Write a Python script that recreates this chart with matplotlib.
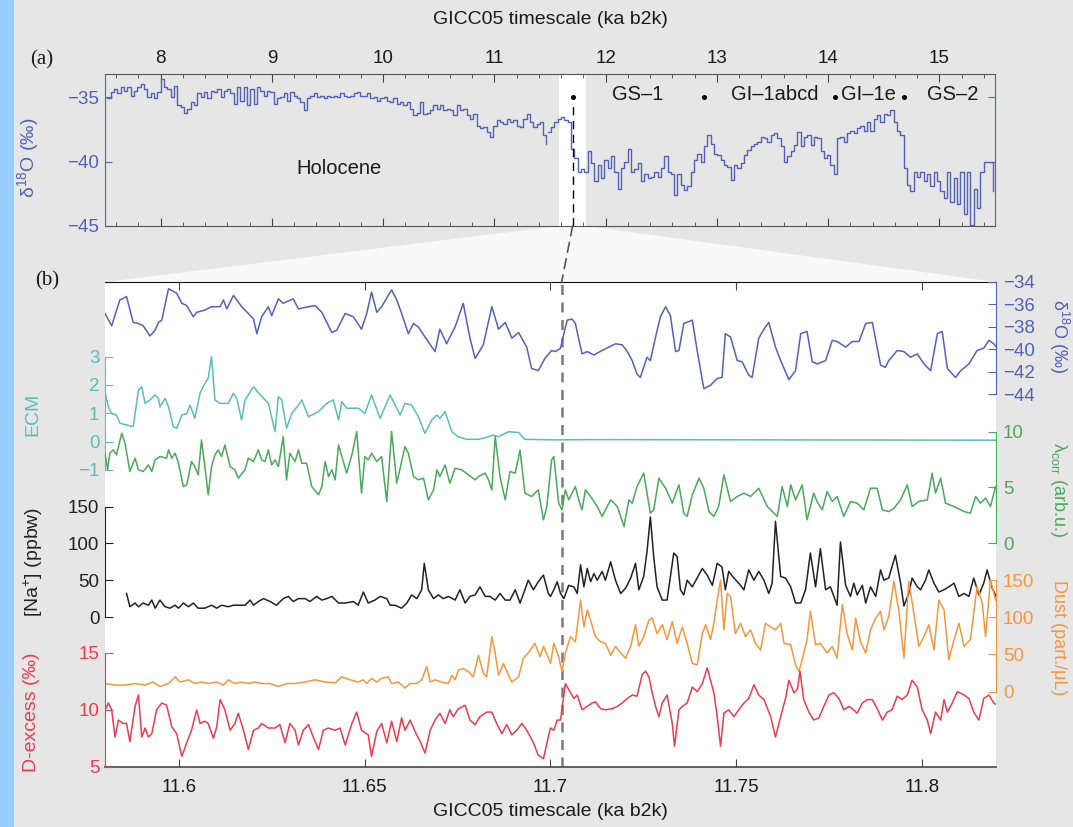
import numpy as np
import matplotlib.pyplot as plt
from matplotlib.patches import Rectangle, Polygon, ConnectionPatch

plt.rcParams['font.family'] = ['Liberation Sans', 'DejaVu Sans']
plt.rcParams['mathtext.fontset'] = 'custom'
plt.rcParams['mathtext.rm'] = 'Liberation Sans'
plt.rcParams['mathtext.it'] = 'Liberation Sans:italic'

# ---------------- panel (a): NGRIP d18O, ~30 yr steps -----------------
a_d18o_holo = [
    -35.1, -34.6, -34.4, -34.7, -34.2, -34.5, -34.2, -34.9, -34.5, -34.2,
    -34.0, -34.4, -35.0, -34.7, -35.1, -34.6, -33.6, -34.2, -34.4, -35.0,
    -34.1, -35.6, -35.8, -36.2, -35.9, -35.4, -35.6, -34.7, -35.0, -34.6,
    -35.1, -34.5, -34.6, -34.4, -35.0, -34.5, -34.4, -34.7, -35.5, -34.2,
    -35.3, -34.2, -35.6, -34.4, -35.5, -34.2, -34.5, -34.9, -34.5, -34.6,
    -35.5, -35.1, -35.0, -34.7, -35.3, -34.6, -34.9, -35.1, -35.4, -36.0,
    -35.1, -34.9, -34.7, -35.0, -34.9, -35.1, -34.9, -35.0, -34.9, -35.0,
    -34.7, -34.9, -35.0, -34.9, -34.7, -34.6, -34.9, -34.9, -34.7, -35.1,
    -35.0, -35.3, -35.1, -35.0, -35.3, -35.4, -35.1, -35.5, -35.4, -35.6,
    -35.4, -35.9, -36.4, -36.2, -35.4, -36.3, -36.2, -36.0, -35.6, -35.9,
    -35.6, -36.0, -35.9, -36.0, -36.4, -35.6, -36.0, -35.9, -36.4, -36.7,
    -36.3, -37.2, -37.4, -37.3, -37.7, -38.1, -37.2, -36.8, -36.9, -37.1,
    -36.7, -36.9, -36.8, -37.2, -37.3, -36.7, -36.3, -36.9, -37.3, -37.1,
    -36.9, -37.9, -38.6]
a_d18o_glac = [
    -37.7, -37.3, -36.9, -36.7, -36.5, -36.8, -36.9, -39.0, -39.7, -40.8,
    -40.6, -40.8, -39.2, -40.1, -41.5, -40.3, -41.3, -39.9, -40.5, -39.6,
    -40.8, -42.1, -40.5, -40.0, -39.0, -40.8, -40.6, -40.1, -41.5, -41.0,
    -41.3, -41.2, -40.8, -41.2, -40.5, -39.6, -40.8, -41.0, -42.6, -41.0,
    -41.8, -42.2, -41.9, -40.8, -39.9, -39.4, -40.0, -38.8, -37.9, -38.6,
    -39.4, -39.5, -39.9, -40.3, -40.4, -41.4, -40.3, -40.5, -40.1, -39.5,
    -39.1, -38.8, -38.6, -38.5, -38.1, -38.2, -38.5, -37.9, -37.8, -38.2,
    -38.8, -40.0, -39.6, -39.2, -38.7, -37.7, -38.8, -38.1, -37.9, -38.7,
    -38.1, -38.2, -39.2, -39.7, -39.5, -40.3, -41.0, -38.2, -38.1, -38.5,
    -37.8, -37.6, -37.8, -37.4, -37.2, -37.6, -36.9, -37.6, -36.7, -36.4,
    -36.9, -36.3, -36.4, -36.0, -36.9, -37.6, -37.9, -40.5, -41.8, -42.3,
    -40.8, -41.2, -40.8, -41.5, -41.0, -41.9, -40.8, -41.5, -42.3, -42.8,
    -40.8, -43.1, -41.3, -43.3, -40.8, -44.1, -40.8, -44.9, -42.1, -43.6,
    -40.8, -40.0, -40.0, -40.0, -42.3]
# sample ages (yr b2k) of the two stretches, 29.9 yr bins
a_age_holo = 7521.7 + 29.9 * np.arange(len(a_d18o_holo))
a_age_glac = 11479.8 + 29.9 * np.arange(len(a_d18o_glac))

event_dots = [11.703, 12.88, 14.06, 14.68]
event_names = ['GS\u20131', 'GI\u20131abcd', 'GI\u20131e', 'GS\u20132']
event_pos = [12.29, 13.52, 14.36, 15.12]

# ---------------- panel (b): (age yr b2k, value) -----------------
d18o_b = [
    (11580.0, -36.8), (11581.8, -37.9), (11584.0, -35.6), (11585.8, -35.3), (11587.6, -37.6),
    (11589.0, -37.7), (11590.3, -37.9), (11592.1, -38.8), (11593.5, -38.3), (11594.4, -37.6),
    (11595.3, -37.4), (11597.1, -34.6), (11599.3, -35.0), (11600.7, -35.9), (11602.0, -36.1),
    (11603.8, -37.1), (11604.7, -36.7), (11606.9, -36.5), (11608.7, -36.2), (11611.0, -36.2),
    (11611.9, -35.6), (11612.8, -36.4), (11614.6, -35.2), (11616.8, -36.2), (11618.6, -36.8),
    (11620.0, -37.3), (11620.9, -38.6), (11622.2, -37.1), (11624.0, -36.2), (11624.9, -37.0),
    (11626.7, -35.5), (11628.0, -35.9), (11630.7, -35.5), (11632.1, -36.4), (11634.8, -36.2),
    (11636.6, -36.1), (11638.4, -36.7), (11641.1, -38.5), (11642.4, -38.3), (11644.7, -36.8),
    (11646.9, -37.1), (11649.1, -38.2), (11650.5, -36.8), (11651.8, -34.9), (11653.2, -36.7),
    (11654.5, -36.2), (11657.2, -34.7), (11658.6, -35.6), (11659.9, -36.8), (11661.7, -38.6),
    (11663.1, -37.7), (11664.4, -38.0), (11666.2, -38.9), (11668.9, -40.2), (11670.2, -38.2),
    (11672.0, -39.5), (11674.3, -38.0), (11676.5, -35.9), (11678.3, -39.0), (11679.7, -40.8),
    (11681.9, -39.6), (11684.2, -36.2), (11686.0, -38.2), (11687.8, -37.6), (11689.6, -39.0),
    (11691.4, -38.5), (11693.6, -39.8), (11694.9, -41.7), (11696.7, -41.9), (11698.5, -40.8),
    (11700.3, -40.1), (11701.3, -40.2), (11702.7, -39.9), (11703.6, -38.6), (11704.5, -37.4),
    (11705.8, -37.3), (11706.7, -37.7), (11708.5, -40.4), (11709.9, -40.2), (11711.7, -40.5),
    (11713.9, -40.1), (11715.7, -39.8), (11717.5, -39.5), (11719.3, -39.6), (11720.7, -40.2),
    (11722.0, -41.0), (11723.3, -42.2), (11724.2, -42.5), (11726.0, -40.7), (11726.9, -41.0),
    (11728.3, -38.9), (11729.6, -37.1), (11731.0, -36.2), (11732.3, -37.0), (11733.7, -40.2),
    (11734.6, -40.1), (11735.9, -37.7), (11738.2, -37.4), (11739.5, -40.1), (11741.3, -43.5),
    (11743.1, -43.2), (11744.9, -42.6), (11746.2, -42.5), (11747.1, -38.6), (11748.5, -38.9),
    (11750.3, -41.0), (11751.6, -41.1), (11753.4, -42.3), (11754.3, -42.5), (11756.1, -39.0),
    (11757.5, -38.2), (11758.8, -37.6), (11760.6, -39.8), (11762.0, -41.0), (11764.2, -42.7),
    (11766.0, -41.9), (11767.4, -38.6), (11769.1, -38.4), (11770.5, -41.1), (11771.8, -41.3),
    (11774.1, -41.0), (11775.9, -39.2), (11777.2, -39.3), (11779.5, -39.8), (11781.3, -39.3),
    (11783.1, -39.3), (11784.9, -37.7), (11786.7, -37.6), (11788.9, -41.4), (11790.2, -41.6),
    (11791.1, -41.0), (11793.4, -40.1), (11795.2, -40.2), (11797.0, -40.7), (11798.8, -40.4),
    (11800.6, -41.3), (11802.4, -41.9), (11804.2, -38.6), (11805.5, -38.4), (11806.9, -41.7),
    (11809.1, -42.5), (11810.5, -41.9), (11812.7, -41.3), (11814.9, -40.1), (11816.7, -39.9),
    (11818.1, -39.2), (11819.4, -39.5), (11820.8, -40.1)]

ecm_b = [
    (11580.0, 1.76), (11580.9, 1.23), (11581.8, 0.99), (11583.1, 0.94), (11584.0, 0.65),
    (11585.8, 0.59), (11587.6, 0.53), (11589.0, 1.82), (11589.9, 1.94), (11590.8, 1.35),
    (11592.1, 1.47), (11593.5, 1.65), (11594.4, 1.53), (11594.8, 1.23), (11596.2, 1.53),
    (11597.1, 1.23), (11598.4, 0.53), (11599.3, 0.47), (11600.7, 0.94), (11602.0, 0.99),
    (11602.9, 1.29), (11604.2, 0.82), (11605.6, 1.71), (11606.9, 2.06), (11607.8, 2.24),
    (11608.7, 3.00), (11609.6, 1.47), (11611.0, 1.35), (11613.2, 1.35), (11614.6, 1.71),
    (11615.5, 1.53), (11616.8, 0.76), (11617.7, 1.47), (11620.0, 1.94), (11621.8, 1.65),
    (11624.0, 1.35), (11625.8, 0.35), (11626.7, 1.59), (11627.6, 1.47), (11628.9, 0.47),
    (11630.3, 0.99), (11632.1, 1.29), (11633.0, 1.47), (11634.8, 0.88), (11637.5, 1.06),
    (11639.7, 1.35), (11641.5, 1.47), (11642.9, 0.76), (11643.8, 1.41), (11645.1, 1.18),
    (11648.2, 1.18), (11650.0, 0.99), (11651.8, 1.65), (11654.1, 0.82), (11656.8, 1.65),
    (11659.5, 0.94), (11660.8, 1.35), (11662.6, 1.29), (11664.4, 0.88), (11666.2, 0.29),
    (11668.0, 0.76), (11669.4, 0.94), (11670.2, 0.82), (11671.6, 1.06), (11673.4, 0.35),
    (11675.2, 0.17), (11677.4, 0.08), (11680.6, 0.08), (11683.3, 0.17), (11684.6, 0.23),
    (11686.0, 0.17), (11688.7, 0.35), (11691.4, 0.32), (11693.1, 0.08), (11701.2, 0.06),
    (11710.0, 0.07), (11820.0, 0.05)]

lam_b = [
    (11580.0, 8.07), (11580.7, 6.58), (11581.3, 8.07), (11582.2, 8.37), (11583.1, 7.92),
    (11584.5, 9.86), (11585.4, 8.96), (11586.7, 6.43), (11588.1, 7.62), (11589.0, 6.58),
    (11590.3, 6.43), (11591.7, 7.02), (11592.6, 6.43), (11593.5, 7.47), (11594.8, 7.77),
    (11596.6, 7.62), (11597.1, 8.37), (11598.0, 7.62), (11598.9, 8.07), (11599.8, 7.17),
    (11601.1, 5.08), (11602.0, 5.23), (11603.3, 7.32), (11604.2, 6.87), (11605.1, 6.13),
    (11606.0, 9.26), (11606.9, 6.87), (11607.8, 4.34), (11608.7, 6.87), (11609.6, 7.92),
    (11610.5, 8.37), (11611.4, 7.77), (11612.3, 8.81), (11613.7, 6.87), (11615.0, 6.58),
    (11615.9, 5.83), (11617.7, 6.58), (11618.6, 7.62), (11620.0, 7.32), (11621.3, 8.37),
    (11622.2, 7.47), (11623.1, 7.32), (11624.0, 8.37), (11624.9, 7.02), (11625.8, 7.47),
    (11626.7, 6.87), (11628.0, 9.56), (11628.9, 5.68), (11629.8, 8.07), (11631.2, 7.32),
    (11632.1, 8.37), (11633.0, 7.17), (11634.3, 7.17), (11635.7, 5.08), (11637.5, 4.34),
    (11638.4, 5.08), (11639.3, 7.32), (11640.2, 5.98), (11641.1, 6.58), (11642.0, 5.68),
    (11642.9, 8.81), (11643.8, 7.77), (11645.1, 6.28), (11646.5, 7.92), (11647.8, 10.01),
    (11649.1, 4.49), (11650.0, 7.77), (11650.9, 7.47), (11651.8, 8.07), (11653.2, 7.32),
    (11654.5, 7.77), (11655.9, 3.74), (11657.2, 10.01), (11658.6, 5.38), (11659.5, 6.72),
    (11660.8, 8.66), (11661.7, 8.07), (11663.1, 5.98), (11664.4, 5.68), (11665.8, 5.83),
    (11667.1, 3.89), (11668.5, 4.78), (11669.4, 6.58), (11670.2, 5.98), (11671.6, 7.02),
    (11672.9, 5.38), (11674.3, 6.72), (11676.1, 6.58), (11677.9, 6.13), (11679.7, 5.68),
    (11680.6, 5.98), (11682.4, 6.28), (11683.3, 5.68), (11684.2, 4.78), (11685.1, 9.56),
    (11686.4, 5.98), (11687.8, 3.89), (11689.1, 6.43), (11690.5, 6.28), (11691.8, 8.37),
    (11693.1, 4.49), (11694.9, 4.19), (11696.7, 4.78), (11698.1, 2.10), (11699.0, 3.29),
    (11700.3, 7.47), (11700.9, 7.77), (11702.2, 3.59), (11703.1, 2.99), (11704.0, 4.78),
    (11704.9, 3.89), (11706.7, 5.08), (11707.6, 3.89), (11708.5, 2.99), (11709.4, 4.78),
    (11710.8, 4.19), (11712.6, 3.29), (11713.9, 2.40), (11716.2, 3.89), (11718.0, 3.29),
    (11719.8, 1.50), (11721.1, 3.89), (11722.0, 3.59), (11723.3, 5.08), (11725.1, 6.28),
    (11726.9, 2.69), (11727.8, 2.99), (11729.2, 5.83), (11731.0, 4.93), (11732.8, 3.59),
    (11734.6, 5.23), (11735.9, 2.69), (11736.8, 2.40), (11738.2, 4.34), (11740.0, 5.83),
    (11741.3, 4.93), (11742.7, 2.84), (11744.0, 2.40), (11745.3, 3.29), (11746.7, 6.13),
    (11748.5, 3.74), (11750.3, 4.19), (11752.1, 4.49), (11753.9, 4.19), (11756.1, 4.93),
    (11758.4, 3.29), (11760.2, 2.69), (11761.1, 2.40), (11762.4, 5.08), (11763.8, 3.29),
    (11764.7, 5.23), (11766.0, 3.89), (11767.8, 5.23), (11769.1, 2.10), (11770.9, 4.49),
    (11771.8, 3.74), (11773.2, 2.99), (11774.5, 4.63), (11775.9, 3.74), (11777.2, 4.19),
    (11779.0, 2.40), (11780.8, 3.74), (11782.6, 3.59), (11784.4, 2.99), (11786.2, 4.93),
    (11788.0, 4.93), (11789.4, 2.99), (11791.1, 2.84), (11792.5, 3.14), (11794.3, 3.89),
    (11796.1, 5.23), (11797.4, 3.29), (11799.2, 3.74), (11801.5, 3.89), (11802.8, 6.28),
    (11803.7, 4.49), (11805.1, 5.83), (11806.4, 3.59), (11808.7, 3.29), (11811.4, 2.84),
    (11813.1, 2.69), (11814.5, 4.19), (11815.8, 3.59), (11817.2, 4.04), (11818.5, 3.29),
    (11819.9, 5.08), (11820.8, 5.23)]

na_b = [
    (11585.8, 32), (11586.7, 14), (11588.1, 19), (11589.0, 14), (11590.3, 19), (11591.7, 16),
    (11592.6, 23), (11593.5, 12), (11594.8, 23), (11596.2, 14), (11597.5, 12), (11598.9, 16),
    (11599.8, 12), (11601.1, 19), (11602.5, 14), (11603.8, 19), (11605.1, 12), (11606.9, 12),
    (11608.7, 16), (11610.1, 12), (11611.4, 16), (11613.2, 14), (11614.6, 16), (11615.9, 16),
    (11617.7, 16), (11619.1, 23), (11620.0, 16), (11621.3, 21), (11622.7, 25), (11624.5, 21),
    (11626.2, 16), (11628.0, 25), (11629.4, 28), (11630.7, 21), (11632.1, 25), (11633.9, 25),
    (11635.2, 21), (11637.0, 28), (11638.4, 23), (11639.7, 25), (11641.1, 28), (11642.9, 19),
    (11644.7, 19), (11646.9, 21), (11648.2, 16), (11649.6, 34), (11650.9, 19), (11652.7, 23),
    (11654.1, 28), (11655.9, 25), (11656.8, 16), (11658.1, 16), (11659.9, 12), (11661.3, 19),
    (11662.6, 30), (11664.0, 25), (11665.3, 37), (11666.0, 73), (11667.1, 37), (11668.5, 25),
    (11669.8, 30), (11671.1, 25), (11672.5, 28), (11674.3, 23), (11675.6, 37), (11677.0, 19),
    (11678.3, 28), (11679.7, 30), (11681.0, 41), (11682.4, 28), (11683.7, 28), (11685.1, 23),
    (11686.4, 32), (11687.8, 23), (11689.1, 23), (11690.5, 37), (11691.8, 19), (11693.1, 37),
    (11694.0, 50), (11695.4, 37), (11696.7, 48), (11698.1, 57), (11699.4, 32),
    (11700.0, 28), (11700.9, 37), (11701.8, 48), (11702.7, 32), (11703.6, 25), (11704.9, 43),
    (11706.3, 41), (11707.2, 32), (11708.1, 71), (11709.0, 41), (11709.9, 66), (11710.8, 48),
    (11711.7, 59), (11712.6, 50), (11713.9, 62), (11714.8, 50), (11716.2, 75), (11717.5, 50),
    (11718.9, 32), (11720.2, 39), (11721.6, 53), (11722.9, 73), (11723.8, 37), (11725.1, 55),
    (11726.0, 89), (11726.9, 136), (11727.8, 82), (11728.7, 41), (11730.1, 23), (11731.4, 23),
    (11733.2, 87), (11734.1, 82), (11735.0, 37), (11735.9, 30), (11736.8, 50), (11738.2, 41),
    (11739.5, 53), (11740.9, 66), (11742.2, 57), (11743.6, 43), (11744.9, 73), (11746.2, 68),
    (11747.1, 37), (11748.0, 62), (11749.4, 53), (11750.7, 46), (11752.1, 37), (11753.4, 64),
    (11754.8, 50), (11756.1, 62), (11757.5, 50), (11758.8, 32), (11759.7, 46), (11760.6, 130),
    (11762.0, 55), (11763.3, 53), (11764.7, 41), (11766.0, 19), (11767.4, 19), (11768.7, 37),
    (11770.0, 87), (11771.4, 41), (11772.7, 93), (11774.1, 37), (11775.4, 41), (11777.2, 16),
    (11778.1, 102), (11779.5, 43), (11780.8, 28), (11781.7, 46), (11782.6, 30), (11784.0, 43),
    (11784.9, 19), (11786.2, 41), (11787.6, 28), (11788.9, 64), (11789.8, 50), (11791.1, 53),
    (11792.9, 84), (11794.3, 46), (11795.2, 15), (11796.5, 32), (11797.4, 53), (11798.8, 41),
    (11799.7, 37), (11801.0, 50), (11801.9, 64), (11803.3, 46), (11804.6, 34), (11806.0, 37),
    (11807.3, 41), (11808.7, 46), (11810.0, 28), (11811.4, 32), (11812.7, 28), (11814.0, 53),
    (11815.4, 30), (11816.7, 46), (11817.6, 64), (11819.0, 39), (11820.3, 25)]

dust_b = [
    (11580.0, 11), (11582.7, 9), (11585.4, 9), (11588.1, 11), (11590.8, 9), (11593.0, 13),
    (11594.8, 7), (11597.1, 11), (11598.9, 20), (11600.2, 13), (11602.5, 16), (11604.2, 11),
    (11606.0, 13), (11607.8, 11), (11610.1, 13), (11611.9, 9), (11613.2, 16), (11615.0, 11),
    (11616.8, 13), (11618.6, 11), (11620.4, 13), (11622.2, 11), (11624.5, 11), (11626.7, 7),
    (11628.9, 11), (11631.2, 11), (11633.9, 13), (11636.6, 16), (11639.3, 13), (11642.0, 12),
    (11643.8, 20), (11646.0, 16), (11648.2, 13), (11649.6, 16), (11650.5, 11), (11651.8, 18),
    (11653.2, 13), (11654.5, 18), (11656.3, 20), (11657.2, 11), (11659.0, 13), (11660.8, 5),
    (11662.2, 11), (11664.0, 11), (11665.3, 16), (11666.7, 34), (11667.6, 13), (11668.9, 16),
    (11670.7, 13), (11672.5, 11), (11673.4, 22), (11674.3, 16), (11675.2, 29), (11676.5, 31),
    (11677.9, 27), (11679.2, 20), (11680.6, 49), (11681.9, 25), (11682.8, 20), (11684.2, 74),
    (11685.1, 52), (11686.0, 22), (11687.3, 38), (11688.7, 22), (11689.6, 13), (11691.4, 20),
    (11692.7, 45), (11694.0, 52), (11695.8, 65), (11697.2, 47), (11698.1, 61), (11699.9, 40),
    (11700.0, 38), (11700.9, 65), (11702.2, 47), (11703.1, 27), (11704.0, 52), (11705.4, 74),
    (11706.7, 67), (11708.1, 123), (11709.0, 87), (11709.9, 110), (11710.8, 96), (11712.1, 74),
    (11713.5, 67), (11714.8, 65), (11716.2, 49), (11717.5, 61), (11718.9, 52), (11720.2, 45),
    (11721.6, 61), (11722.9, 90), (11723.8, 61), (11725.1, 74), (11726.5, 96), (11727.4, 99),
    (11728.7, 78), (11730.1, 90), (11731.4, 70), (11732.8, 94), (11734.1, 65), (11735.5, 87),
    (11736.8, 65), (11738.2, 38), (11739.5, 36), (11740.9, 78), (11741.8, 90), (11743.1, 70),
    (11744.0, 92), (11744.9, 123), (11745.8, 150), (11746.7, 83), (11747.6, 132), (11748.5, 128),
    (11749.8, 78), (11751.2, 92), (11752.5, 74), (11753.9, 83), (11755.2, 65), (11756.6, 56),
    (11757.9, 92), (11759.3, 87), (11760.6, 83), (11762.0, 92), (11762.9, 65), (11764.7, 63),
    (11766.0, 36), (11766.9, 27), (11767.8, 43), (11769.1, 70), (11770.0, 108), (11771.4, 63),
    (11772.7, 65), (11774.5, 52), (11775.9, 61), (11777.2, 45), (11778.6, 117), (11779.9, 78),
    (11781.3, 56), (11782.2, 99), (11783.5, 67), (11784.9, 52), (11786.2, 83), (11787.6, 99),
    (11788.9, 108), (11789.8, 83), (11791.1, 101), (11792.5, 148), (11793.8, 110), (11795.2, 45),
    (11796.5, 148), (11797.9, 105), (11799.2, 61), (11800.6, 74), (11801.9, 90), (11803.3, 56),
    (11804.6, 123), (11806.0, 110), (11807.3, 43), (11808.7, 70), (11810.0, 92), (11811.4, 61),
    (11813.1, 70), (11814.9, 141), (11816.3, 119), (11817.2, 74), (11818.5, 150), (11819.9, 123),
    (11820.8, 117)]

dex_b = [
    (11580.0, 10.0), (11580.9, 10.6), (11581.8, 10.0), (11582.7, 7.6), (11583.6, 9.1),
    (11584.9, 8.8), (11585.8, 8.8), (11586.7, 7.2), (11588.1, 10.3), (11589.0, 11.3),
    (11589.9, 7.6), (11590.8, 8.4), (11591.7, 7.6), (11592.6, 7.9), (11593.9, 10.0),
    (11595.3, 10.6), (11596.6, 10.4), (11598.0, 8.5), (11599.3, 7.9), (11600.7, 5.9),
    (11602.0, 7.1), (11603.3, 8.2), (11604.7, 10.0), (11605.6, 8.8), (11606.9, 9.0),
    (11607.8, 8.8), (11609.2, 7.5), (11610.1, 8.5), (11611.0, 10.9), (11612.3, 10.0),
    (11613.7, 8.2), (11615.0, 8.8), (11615.9, 9.7), (11617.3, 8.2), (11618.6, 6.5),
    (11620.0, 8.2), (11621.3, 8.4), (11622.2, 8.8), (11624.0, 8.4), (11625.8, 8.4),
    (11627.1, 8.7), (11628.5, 7.1), (11629.8, 8.8), (11631.2, 8.2), (11632.1, 6.9),
    (11633.4, 8.2), (11634.8, 8.7), (11636.1, 7.6), (11637.5, 6.5), (11638.8, 8.2),
    (11640.2, 8.4), (11642.0, 8.2), (11643.3, 8.4), (11644.7, 6.9), (11646.5, 8.8),
    (11647.8, 9.8), (11649.1, 8.2), (11650.9, 7.8), (11651.8, 5.9), (11653.2, 8.1),
    (11654.5, 8.8), (11655.9, 7.1), (11657.2, 9.0), (11658.6, 7.2), (11659.9, 9.3),
    (11660.8, 8.2), (11662.2, 9.1), (11663.5, 8.1), (11664.9, 7.2), (11666.2, 6.2),
    (11667.6, 8.2), (11668.9, 9.1), (11670.2, 9.7), (11671.6, 8.8), (11672.9, 10.0),
    (11673.8, 9.4), (11675.2, 10.1), (11677.0, 10.4), (11678.3, 9.1), (11679.7, 8.7),
    (11681.0, 9.4), (11682.8, 9.8), (11684.2, 9.8), (11685.5, 8.8), (11686.9, 7.9),
    (11688.2, 8.7), (11689.6, 7.8), (11690.9, 8.2), (11692.3, 8.8), (11693.6, 8.2),
    (11695.4, 7.1), (11696.7, 6.0), (11698.1, 5.7), (11699.4, 7.6),
    (11700.0, 8.4), (11700.9, 8.2), (11701.8, 9.1), (11702.7, 9.1), (11704.0, 12.3),
    (11705.4, 11.5), (11706.3, 11.0), (11707.2, 11.3), (11708.5, 10.0), (11709.9, 10.3),
    (11711.2, 10.6), (11712.1, 10.7), (11713.5, 10.1), (11714.8, 10.0), (11716.6, 10.1),
    (11718.0, 10.3), (11719.3, 10.6), (11720.7, 11.0), (11722.0, 11.3), (11723.3, 11.2),
    (11724.7, 13.1), (11725.6, 13.4), (11726.5, 12.9), (11727.4, 11.5), (11728.3, 10.3),
    (11729.2, 9.4), (11730.1, 10.6), (11731.4, 11.3), (11732.8, 8.8), (11733.4, 6.8),
    (11734.6, 10.0), (11735.5, 10.3), (11736.8, 10.6), (11738.2, 12.0), (11739.5, 11.6),
    (11740.9, 12.3), (11742.2, 13.7), (11743.1, 12.6), (11744.0, 11.5), (11744.9, 9.4),
    (11745.8, 6.8), (11746.7, 9.7), (11748.0, 10.0), (11749.4, 9.4), (11750.7, 10.0),
    (11752.1, 10.6), (11753.4, 11.0), (11754.8, 12.2), (11756.1, 11.3), (11757.5, 10.9),
    (11759.3, 9.4), (11760.6, 7.6), (11762.0, 9.4), (11763.3, 11.0), (11764.2, 12.6),
    (11765.6, 11.5), (11766.5, 11.8), (11767.2, 13.4), (11768.2, 10.9), (11769.6, 9.8),
    (11770.9, 9.1), (11772.3, 9.3), (11773.6, 10.3), (11775.0, 11.3), (11776.3, 11.5),
    (11777.7, 11.0), (11779.0, 10.0), (11780.4, 10.3), (11781.3, 10.1), (11782.6, 9.7),
    (11784.0, 10.6), (11785.3, 10.9), (11786.7, 10.9), (11788.0, 10.1), (11789.4, 9.1),
    (11790.7, 9.8), (11792.0, 10.0), (11793.4, 11.2), (11794.7, 10.9), (11796.1, 11.3),
    (11797.4, 12.6), (11798.8, 12.0), (11800.1, 10.0), (11801.5, 9.1), (11802.4, 7.9),
    (11803.7, 9.8), (11805.1, 9.1), (11806.0, 10.9), (11806.9, 9.8), (11808.2, 10.6),
    (11809.6, 11.6), (11811.4, 11.3), (11812.7, 11.0), (11814.0, 9.8), (11815.4, 9.1),
    (11816.7, 11.0), (11818.1, 11.3), (11819.4, 10.6), (11820.8, 10.3)]

BG = '#e6e6e6'
BLUE = '#5262bb'
TEAL = '#5cbcbc'
GREEN = '#4aa95a'
ORANGE = '#f7963c'
RED = '#ef3b4b'
BLACK = '#222222'
W, H = 1073, 827


def box(l, t, r, b):
    # pixel box in the 1073x827 canvas -> figure fraction
    return [l / W, 1 - b / H, (r - l) / W, (b - t) / H]


fig = plt.figure(figsize=(W / 100, H / 100), dpi=100)
fig.patch.set_facecolor(BG)
fig.add_artist(Rectangle((0, 0), 14 / W, 1, transform=fig.transFigure,
                         color='#99ccff', lw=0, zorder=-2))

# ---------------- panel (a) ----------------
axa = fig.add_axes(box(105, 74, 995, 226))
axa.set_facecolor(BG)
axa.axvspan(11.58, 11.82, color='white', lw=0, zorder=0)
axa.step(a_age_holo / 1000, a_d18o_holo, where='post', color=BLUE, lw=1.0, zorder=2)
axa.step(a_age_glac / 1000, a_d18o_glac, where='post', color=BLUE, lw=1.0, zorder=2)
axa.plot([11.703, 11.703], [-45, -35.6], color='k', lw=1.0, ls=(0, (6, 4)), zorder=3)
axa.plot(event_dots, [-35.0] * len(event_dots), 'o', color='k', ms=2.6, zorder=3)
for name, x in zip(event_names, event_pos):
    axa.text(x, -34.8, name, ha='center', va='center', fontsize=14.5, color='#1a1a1a')
axa.text(9.6, -40.5, 'Holocene', ha='center', va='center', fontsize=14.5, color='#1a1a1a')
axa.set_xlim(7.5, 15.5)
axa.set_ylim(-45, -33.2)
axa.set_xticks(np.arange(8, 16))
axa.set_xticks(np.arange(7.6, 15.5, 0.2), minor=True)
axa.set_yticks([-45, -40, -35])
axa.tick_params(axis='x', which='both', direction='in', top=True, bottom=True,
                labeltop=True, labelbottom=False, colors='#444444', labelcolor='#1a1a1a',
                labelsize=13.5, pad=5)
axa.tick_params(axis='x', which='major', length=6)
axa.tick_params(axis='x', which='minor', length=3)
axa.tick_params(axis='y', direction='in', left=True, right=True, length=5,
                colors=BLUE, labelsize=13.5, pad=4)
for s in ['left', 'right']:
    axa.spines[s].set_color(BLUE)
for s in ['top', 'bottom']:
    axa.spines[s].set_color('#555555')
fig.text(28 / W, 1 - 158 / H, '\u03b4$^{18}$O (\u2030)', rotation=90, ha='center',
         va='center', color=BLUE, fontsize=14)
fig.text(550 / W, 1 - 19 / H, 'GICC05 timescale (ka b2k)', ha='center', va='center',
         fontsize=14, color='#1a1a1a')
fig.text(42 / W, 1 - 60 / H, '(a)', ha='center', va='center', fontsize=15,
         family='Liberation Serif', color='#1a1a1a')

# ---------------- panel (b) ----------------
axb = fig.add_axes(box(105, 282, 996, 767))
axb.set_facecolor('white')
axb.set_xlim(11.58, 11.82)
axb.set_ylim(0, 1)
axb.set_yticks([])
axb.spines['left'].set_visible(False)
axb.spines['right'].set_visible(False)
axb.spines['top'].set_color('#111111')
axb.spines['bottom'].set_color('#555555')
axb.spines['bottom'].set_linewidth(1.3)
xt = [11.6, 11.65, 11.7, 11.75, 11.8]
axb.set_xticks(xt)
axb.set_xticklabels(['11.6', '11.65', '11.7', '11.75', '11.8'])
axb.tick_params(axis='x', direction='in', top=True, length=6, colors='#444444',
                labelcolor='#1a1a1a', labelsize=13.5, pad=9)
axb.axvline(11.703, color='#7a7a7a', lw=1.8, ls=(0, (4, 3)), zorder=1)
fig.text(550 / W, 1 - 811 / H, 'GICC05 timescale (ka b2k)', ha='center', va='center',
         fontsize=14, color='#1a1a1a')
fig.text(47 / W, 1 - 281 / H, '(b)', ha='center', va='center', fontsize=15,
         family='Liberation Serif', color='#1a1a1a')


def overlay(side, lims, ticks, color):
    ax = axb.twinx()
    ax.set_ylim(*lims)
    for name, sp in ax.spines.items():
        sp.set_visible(name == side)
    ax.spines[side].set_color(color)
    ax.spines[side].set_bounds(ticks[0], ticks[-1])
    ax.yaxis.set_ticks_position(side)
    ax.set_yticks(ticks)
    ax.tick_params(axis='y', colors=color, direction='in', length=6,
                   labelsize=13.5, pad=4 if side == 'left' else 5)
    return ax


series = [
    (d18o_b, 'right', (-77.2, -34.0), [-44, -42, -40, -38, -36, -34], BLUE,
     '\u03b4$^{18}$O (\u2030)', 1059, 336),
    (ecm_b, 'left', (-11.5, 5.64), [-1, 0, 1, 2, 3], TEAL, 'ECM', 33, 414),
    (lam_b, 'right', (-20.05, 23.41), [0, 5, 10], GREEN,
     '\u03bb$_{\\rm corr}$ (arb.u.)', 1059, 490),
    (na_b, 'left', (-204, 455.6), [0, 50, 100, 150], BLACK,
     '[Na$^{+}$] (ppbw)', 33, 562),
    (dust_b, 'right', (-101.1, 550.2), [0, 50, 100, 150], ORANGE,
     'Dust (part./\u03bcL)', 1059, 638),
    (dex_b, 'left', (4.97, 47.63), [5, 10, 15], RED, 'D-excess (\u2030)', 31, 712),
]
for data, side, lims, ticks, color, label, lx, ly in series:
    ax = overlay(side, lims, ticks, color)
    age, val = np.array(data, dtype=float).T
    ax.plot(age / 1000, val, color=color, lw=1.1)
    fig.text(lx / W, 1 - ly / H, label, rotation=90 if side == 'left' else 270,
             ha='center', va='center', color=color,
             fontsize=14 if side == 'left' else 13)

# zoom wedge between the panels and the dashed link
to_fig = fig.transFigure.inverted()
corners = [axa.transData.transform((11.58, -45)), axa.transData.transform((11.82, -45)),
           axb.transData.transform((11.82, 1)), axb.transData.transform((11.58, 1))]
wedge = Polygon(to_fig.transform(np.array(corners)), closed=True, transform=fig.transFigure,
                facecolor='white', edgecolor='none', alpha=0.8, zorder=-1)
fig.add_artist(wedge)
link = ConnectionPatch(xyA=(11.703, -45), coordsA=axa.transData, xyB=(11.703, 1),
                       coordsB=axb.transData, color='#555555', lw=1.2, ls=(0, (6, 4)))
fig.add_artist(link)

fig.savefig('out.png', dpi=100, facecolor=fig.get_facecolor())
